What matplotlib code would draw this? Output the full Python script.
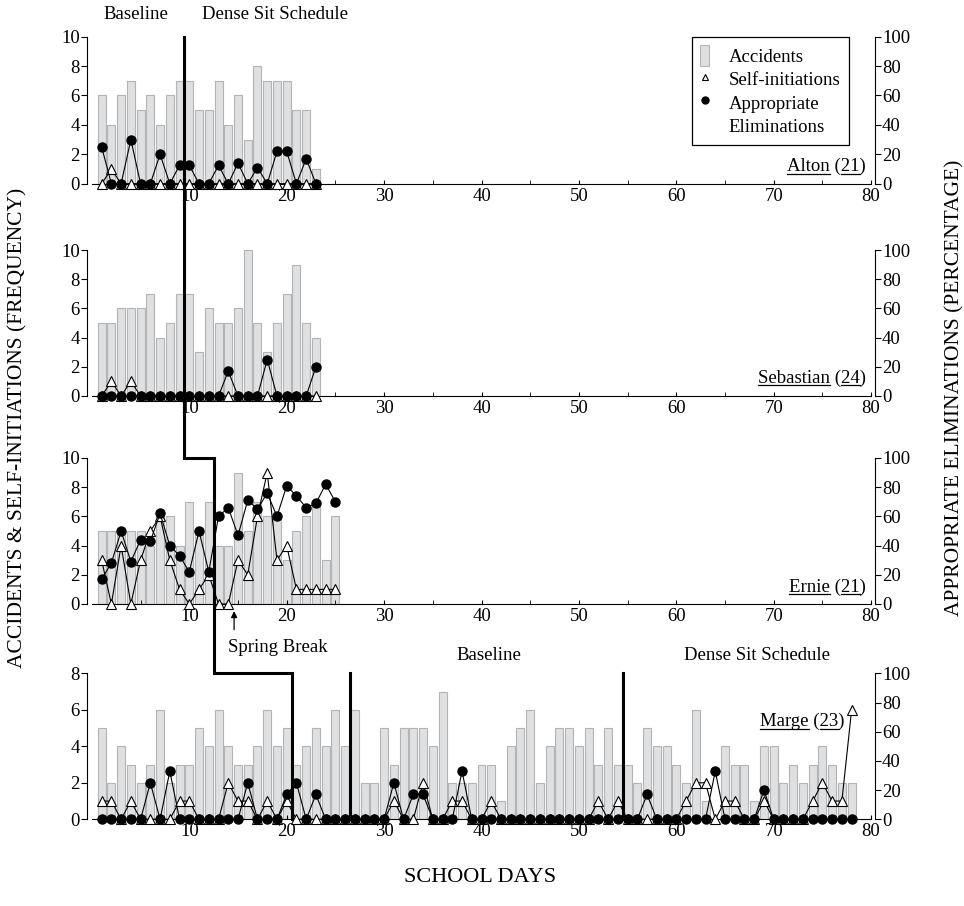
import numpy as np
import matplotlib
matplotlib.use("Agg")
import matplotlib.pyplot as plt
from matplotlib.lines import Line2D
from matplotlib.patches import Patch

plt.rcParams['font.family'] = ['Liberation Serif', 'DejaVu Serif']

#%% data (accidents & self-initiations = frequency, appropriate eliminations = %)
alton_acc = [6, 4, 6, 7, 5, 6, 4, 6, 7, 7, 5, 5, 7, 4, 6, 3, 8, 7, 7, 7, 5, 5, 1]
alton_self = [0, 1, 0, 0, 0, 0, 0, 0, 0, 0, 0, 0, 0, 0, 0, 0, 0, 0, 0, 0, 0, 0, 0]
alton_app = [25, 0, 0, 30, 0, 0, 20, 0, 12.5, 12.5, 0, 0, 12.5, 0, 14, 0, 11, 0, 22, 22, 0, 17, 0]

sebastian_acc = [5, 5, 6, 6, 6, 7, 4, 5, 7, 7, 3, 6, 5, 5, 6, 10, 5, 3, 5, 7, 9, 5, 4]
sebastian_self = [0, 1, 0, 1, 0, 0, 0, 0, 0, 0, 0, 0, 0, 0, 0, 0, 0, 0, 0, 0, 0, 0, 0]
sebastian_app = [0, 0, 0, 0, 0, 0, 0, 0, 0, 0, 0, 0, 0, 17, 0, 0, 0, 25, 0, 0, 0, 0, 20]

ernie_acc = [5, 5, 5, 5, 5, 4, 6, 6, 4, 7, 5, 7, 4, 4, 9, 5, 7, 6, 6, 3, 5, 6, 7, 3, 6]
ernie_self = [3, 0, 4, 0, 3, 5, 6, 3, 1, 0, 1, 2, 0, 0, 3, 2, 6, 9, 3, 4, 1, 1, 1, 1, 1]
ernie_app = [17, 28, 50, 29, 44, 43, 62, 40, 33, 22, 50, 22, 60, 66, 47, 71, 65, 76, 60, 81,
             74, 66, 69, 82, 70]

marge_acc = [5, 2, 4, 3, 2, 3, 6, 2, 3, 3, 5, 4, 6, 4, 3, 3, 4, 6, 4, 5,
             3, 4, 5, 4, 6, 4, 6, 2, 2, 5, 3, 5, 5, 5, 4, 7, 2, 2, 2, 3,
             3, 1, 4, 5, 6, 2, 4, 5, 5, 4, 5, 3, 5, 3, 3, 2, 5, 4, 4, 3,
             2, 6, 1, 0, 4, 3, 3, 1, 4, 4, 2, 3, 2, 3, 4, 3, 2, 2]
marge_self = [1, 1, 0, 1, 0, 0, 0, 0, 1, 1, 0, 0, 0, 2, 1, 1, 0, 1, 0, 1,
              0, 0, 0, 0, 0, 0, 0, 0, 0, 0, 1, 0, 0, 2, 0, 0, 1, 1, 0, 0,
              1, 0, 0, 0, 0, 0, 0, 0, 0, 0, 0, 1, 0, 1, 0, 0, 0, 0, 0, 0,
              1, 2, 2, 0, 1, 1, 0, 0, 1, 0, 0, 0, 0, 1, 2, 1, 1, 6]
marge_app = [0, 0, 0, 0, 0, 25, 0, 33, 0, 0, 0, 0, 0, 0, 0, 25, 0, 0, 0, 17,
             25, 0, 17, 0, 0, 0, 0, 0, 0, 0, 25, 0, 17, 17, 0, 0, 0, 33, 0, 0,
             0, 0, 0, 0, 0, 0, 0, 0, 0, 0, 0, 0, 0, 0, 0, 0, 17, 0, 0, 0,
             0, 0, 0, 33, 0, 0, 0, 0, 20, 0, 0, 0, 0, 0, 0, 0, 0, 0]

fs = 13.5
W, H = 964, 906
fig = plt.figure(figsize=(W / 100, H / 100), dpi=100)

x0 = 91.9 / W
xw = (871.1 - 91.9) / W
# top/bottom pixel rows of each panel
rows = [(36.7, 183.7), (250, 396), (458, 604), (673.3, 819.3)]


def panel(rowpx, acc, selfi, app, ymax):
    top, bot = rowpx
    ax = fig.add_axes([x0, 1 - bot / H, xw, (bot - top) / H])
    days = np.arange(1, len(acc) + 1)
    ax.bar(days, acc, width=0.82, color="#dfe0e2", edgecolor="#b3b4b6", linewidth=0.8, zorder=1)
    ax.plot(days, selfi, color="black", lw=0.8, marker="^", ms=7.5, mfc="white",
            mec="black", mew=0.8, zorder=3, clip_on=False)
    ax.set_xlim(0, 80)
    ax.set_ylim(0, ymax)
    ax.set_yticks(np.arange(0, ymax + 1, 2))
    ax.set_xticks(np.arange(10, 81, 10))
    ax.set_xticks(np.arange(5, 80, 10), minor=True)
    ax.spines[['top', 'right']].set_visible(False)
    ax.spines['left'].set_position(('outward', 3.6))
    ax.tick_params(axis='y', direction='out', length=4, labelsize=fs, pad=1)
    ax.tick_params(axis='x', which='both', direction='in', length=3, labelsize=fs, pad=3)
    ax.patch.set_alpha(0)

    tw = ax.twinx()
    tw.plot(days, app, color="black", lw=0.8, marker="o", ms=6.5, zorder=4, clip_on=False)
    tw.set_ylim(0, 100)
    tw.set_yticks(np.arange(0, 101, 20))
    tw.spines[['top', 'left', 'bottom']].set_visible(False)
    tw.spines['right'].set_position(('outward', 2.8))
    tw.tick_params(axis='y', direction='out', length=4, labelsize=fs, pad=1)
    return ax, tw


ax1, tw1 = panel(rows[0], alton_acc, alton_self, alton_app, 10)
ax2, tw2 = panel(rows[1], sebastian_acc, sebastian_self, sebastian_app, 10)
ax3, tw3 = panel(rows[2], ernie_acc, ernie_self, ernie_app, 10)
ax4, tw4 = panel(rows[3], marge_acc, marge_self, marge_app, 8)

# phase labels
ax1.text(4.5, 11.5, "Baseline", ha="center", va="center", fontsize=fs)
ax1.text(18.8, 11.5, "Dense Sit Schedule", ha="center", va="center", fontsize=fs)
ax4.text(40.8, 9.0, "Baseline", ha="center", va="center", fontsize=fs)
ax4.text(68.3, 9.0, "Dense Sit Schedule", ha="center", va="center", fontsize=fs)

# spring break
ax3.annotate("", xy=(14.6, -0.3), xytext=(14.6, -1.95), xycoords="data",
             arrowprops=dict(arrowstyle="-|>", color="black", lw=0.9, mutation_scale=9),
             annotation_clip=False)
ax3.text(14.0, -2.95, "Spring Break", ha="left", va="center", fontsize=fs)

# legend
handles = [Patch(facecolor="#dfe0e2", edgecolor="#b3b4b6", lw=0.8),
           Line2D([], [], ls="none", marker="^", ms=5, mfc="white", mec="black", mew=0.8),
           Line2D([], [], ls="none", marker="o", ms=5, color="black"),
           Line2D([], [], ls="none")]
leg = tw1.legend(handles, ["Accidents", "Self-initiations", "Appropriate", "Eliminations"],
                 loc="upper left", bbox_to_anchor=(0.770, 1.0), borderaxespad=0,
                 fontsize=fs, fancybox=False, handlelength=0.45, handleheight=1.3,
                 handletextpad=1.05, labelspacing=0.16, borderpad=0.45, framealpha=1)
leg.get_frame().set_edgecolor("black")
leg.get_frame().set_linewidth(0.9)

# participant names, underlined
names = [(ax1, 79.5, 0.86, "Alton", "21"), (ax2, 79.5, 0.9, "Sebastian", "24"),
         (ax3, 79.5, 0.85, "Ernie", "21"), (ax4, 77.3, 5.1, "Marge", "23")]
renderer = fig.canvas.get_renderer()
for ax, x, y, nm, num in names:
    t = ax.text(x, y, f"{nm} ({num})", ha="right", va="baseline", fontsize=fs, zorder=5)
    prop = t.get_fontproperties()
    wid = lambda s: renderer.get_text_width_height_descent(s, prop, ismath=False)[0]
    rx, ry = ax.transData.transform((x, y))
    lx = rx - wid(f"{nm} ({num})")
    for a, b in [(lx, lx + wid(nm)), (lx + wid(nm + " ("), lx + wid(nm + " (" + num))]:
        p = fig.transFigure.inverted().transform([(a, ry - 2.5), (b, ry - 2.5)])
        fig.add_artist(Line2D(p[:, 0], p[:, 1], color="black", lw=0.9))

# phase change line
def fpt(ax, x, y):
    return fig.transFigure.inverted().transform(ax.transData.transform((x, y)))

pts = np.array([fpt(ax1, 9.5, 10), fpt(ax3, 9.5, 10), fpt(ax3, 12.5, 10),
                fpt(ax4, 12.5, 8), fpt(ax4, 20.5, 8), fpt(ax4, 20.5, 0)])
fig.add_artist(Line2D(pts[:, 0], pts[:, 1], color="black", lw=2.2, solid_joinstyle="miter"))
for xl in [26.5, 54.5]:
    p = np.array([fpt(ax4, xl, 8), fpt(ax4, xl, 0)])
    fig.add_artist(Line2D(p[:, 0], p[:, 1], color="black", lw=2.2))

# axis titles
fig.text(18 / W, 1 - 428 / H, "ACCIDENTS & SELF-INITIATIONS (FREQUENCY)", rotation=90,
         ha="center", va="center", fontsize=15.5)
fig.text(955 / W, 1 - 388 / H, "APPROPRIATE ELIMINATIONS (PERCENTAGE)", rotation=90,
         ha="center", va="center", fontsize=15.5)
fig.text(480 / W, 1 - 877 / H, "SCHOOL DAYS", ha="center", va="center", fontsize=16)

fig.savefig("out.png", dpi=100)
